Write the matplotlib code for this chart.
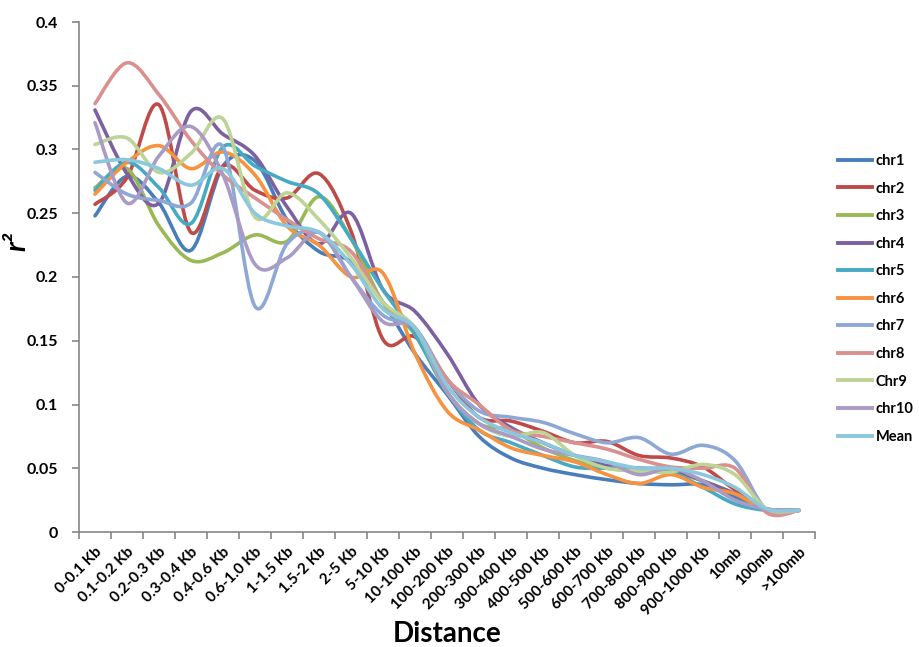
import numpy as np
import matplotlib.pyplot as plt
from matplotlib.path import Path
from matplotlib.patches import PathPatch
from matplotlib.lines import Line2D

# distance classes
categories = ['0-0.1 Kb', '0.1-0.2 Kb', '0.2-0.3 Kb', '0.3-0.4 Kb', '0.4-0.6 Kb',
              '0.6-1.0 Kb', '1-1.5 Kb', '1.5-2 Kb', '2-5 Kb', '5-10 Kb',
              '10-100 Kb', '100-200 Kb', '200-300 Kb', '300-400 Kb', '400-500 Kb',
              '500-600 Kb', '600-700 Kb', '700-800 Kb', '800-900 Kb', '900-1000 Kb',
              '10mb', '100mb', '>100mb']

# r^2 per chromosome
chr1 = [0.248, 0.279, 0.258, 0.221, 0.287, 0.291, 0.245, 0.220, 0.212, 0.180, 0.140, 0.108,
        0.075, 0.058, 0.050, 0.045, 0.041, 0.038, 0.037, 0.037, 0.027, 0.018, 0.017]
chr2 = [0.257, 0.278, 0.335, 0.235, 0.287, 0.268, 0.262, 0.281, 0.236, 0.151, 0.153, 0.120,
        0.090, 0.087, 0.079, 0.070, 0.071, 0.060, 0.058, 0.051, 0.033, 0.017, 0.017]
chr3 = [0.270, 0.285, 0.240, 0.213, 0.219, 0.233, 0.228, 0.263, 0.230, 0.180, 0.155, 0.110,
        0.085, 0.080, 0.066, 0.056, 0.050, 0.048, 0.047, 0.040, 0.030, 0.017, 0.017]
chr4 = [0.331, 0.281, 0.258, 0.330, 0.312, 0.295, 0.255, 0.226, 0.250, 0.190, 0.173, 0.140,
        0.100, 0.082, 0.070, 0.060, 0.052, 0.050, 0.049, 0.040, 0.030, 0.018, 0.017]
chr5 = [0.268, 0.290, 0.270, 0.242, 0.302, 0.287, 0.275, 0.265, 0.230, 0.190, 0.155, 0.110,
        0.080, 0.070, 0.060, 0.051, 0.050, 0.050, 0.047, 0.035, 0.022, 0.017, 0.017]
chr6 = [0.265, 0.290, 0.303, 0.285, 0.298, 0.280, 0.240, 0.225, 0.200, 0.203, 0.140, 0.095,
        0.080, 0.066, 0.060, 0.055, 0.045, 0.038, 0.045, 0.035, 0.030, 0.017, 0.017]
chr7 = [0.282, 0.265, 0.260, 0.258, 0.302, 0.177, 0.226, 0.235, 0.200, 0.170, 0.160, 0.120,
        0.095, 0.090, 0.086, 0.077, 0.070, 0.074, 0.061, 0.068, 0.056, 0.017, 0.017]
chr8 = [0.336, 0.368, 0.343, 0.307, 0.280, 0.262, 0.245, 0.230, 0.220, 0.180, 0.160, 0.120,
        0.100, 0.080, 0.075, 0.070, 0.065, 0.057, 0.051, 0.050, 0.050, 0.015, 0.017]
chr9 = [0.304, 0.309, 0.282, 0.297, 0.324, 0.247, 0.266, 0.245, 0.215, 0.180, 0.160, 0.110,
        0.085, 0.075, 0.078, 0.060, 0.050, 0.048, 0.047, 0.053, 0.045, 0.018, 0.017]
chr10 = [0.321, 0.258, 0.295, 0.318, 0.280, 0.210, 0.215, 0.235, 0.200, 0.165, 0.160, 0.110,
         0.085, 0.075, 0.065, 0.060, 0.055, 0.045, 0.050, 0.040, 0.025, 0.018, 0.017]
mean = [0.290, 0.292, 0.285, 0.272, 0.285, 0.250, 0.240, 0.235, 0.210, 0.175, 0.160, 0.115,
        0.090, 0.078, 0.070, 0.060, 0.055, 0.050, 0.050, 0.045, 0.035, 0.018, 0.017]

series = [('chr1', chr1, '#4A7EBB'), ('chr2', chr2, '#BE4B48'), ('chr3', chr3, '#98B954'),
          ('chr4', chr4, '#7D60A0'), ('chr5', chr5, '#46AAC5'), ('chr6', chr6, '#F69240'),
          ('chr7', chr7, '#8EA8D6'), ('chr8', chr8, '#D9908F'), ('Chr9', chr9, '#BDD496'),
          ('chr10', chr10, '#A99BC6'), ('Mean', mean, '#8BC7DD')]


def smooth_path(x, y):
    # Excel-like smoothed line: cubic bezier through the points
    pts = np.column_stack([x, y])
    verts = [pts[0]]
    codes = [Path.MOVETO]
    n = len(pts)
    for i in range(n - 1):
        p0 = pts[max(i - 1, 0)]
        p1 = pts[i]
        p2 = pts[i + 1]
        p3 = pts[min(i + 2, n - 1)]
        c1 = p1 + (p2 - p0) / 6.0
        c2 = p2 - (p3 - p1) / 6.0
        verts += [c1, c2, p2]
        codes += [Path.CURVE4] * 3
    return Path(verts, codes)


plt.rcParams['font.family'] = ['Lato', 'DejaVu Sans']
fig = plt.figure(figsize=(9.19, 6.47), dpi=100)
ax = fig.add_axes([79 / 919, 1 - 532 / 647, 736 / 919, 510 / 647])

x = np.arange(len(categories))
handles = []
for name, vals, col in series:
    p = PathPatch(smooth_path(x, np.array(vals)), facecolor='none', edgecolor=col,
                  lw=2.6, capstyle='round', joinstyle='round')
    ax.add_patch(p)
    handles.append(Line2D([], [], color=col, lw=2.8, label=name))

ax.set_xlim(-0.5, len(categories) - 0.5)
ax.set_ylim(0, 0.4)
ax.set_yticks(np.arange(0, 0.401, 0.05))
ax.set_yticklabels(['0', '0.05', '0.1', '0.15', '0.2', '0.25', '0.3', '0.35', '0.4'],
                   fontsize=11.5, fontweight='bold')
ax.set_xticks(np.arange(-0.5, len(categories), 1.0))
ax.set_xticklabels([])
ax.set_xticks(x, minor=True)
ax.set_xticklabels(categories, minor=True, rotation=45, ha='right',
                   rotation_mode='anchor', fontsize=11, fontweight='bold')
ax.tick_params(axis='x', which='minor', length=0, pad=9)
ax.tick_params(axis='both', which='major', length=5, color='#868686', width=1.2)
ax.tick_params(axis='y', pad=10)

for s in ['top', 'right']:
    ax.spines[s].set_visible(False)
for s in ['left', 'bottom']:
    ax.spines[s].set_color('#868686')
    ax.spines[s].set_linewidth(1.2)

ax.set_xlabel('Distance', fontsize=20, fontweight='bold', labelpad=2)
ax.set_ylabel('r²', fontsize=20, fontweight='bold', fontstyle='italic')
ax.yaxis.set_label_coords(-0.066, 0.57)

fig.legend(handles=handles, loc='upper left', bbox_to_anchor=(838 / 919, 1 - 154 / 647),
           frameon=False, prop={'weight': 'bold', 'size': 10.5},
           borderpad=0, borderaxespad=0,
           handlelength=2.3, handletextpad=0.3, labelspacing=0.93)

fig.savefig('out.png', dpi=100)
